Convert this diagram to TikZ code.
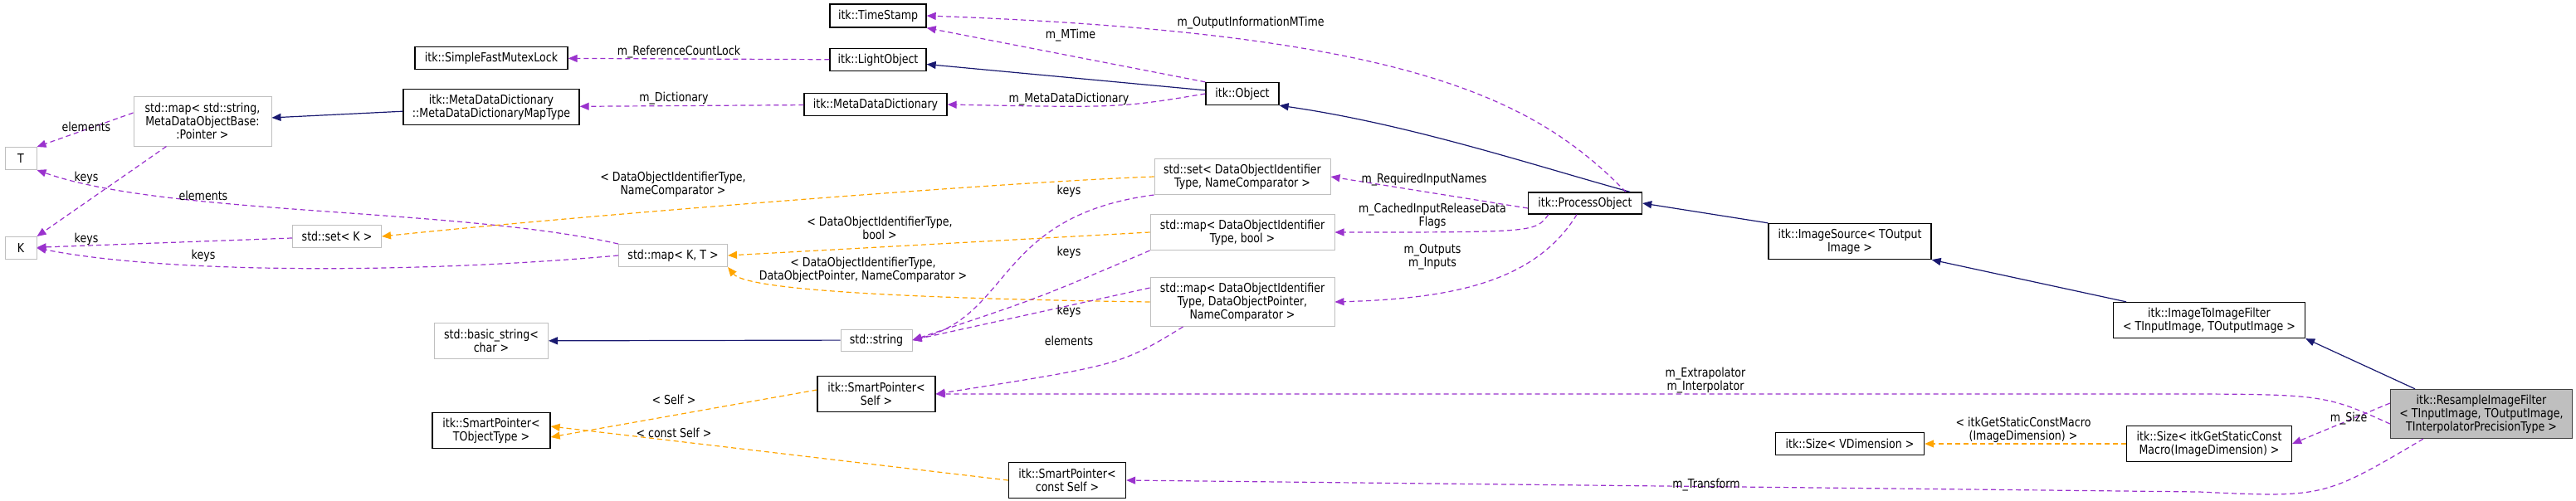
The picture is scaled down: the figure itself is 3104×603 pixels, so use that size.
\documentclass[tikz,border=0pt]{standalone}
\usepackage{fontspec}
\setmainfont{DejaVu Sans}[FakeStretch=0.84]
\usetikzlibrary{arrows.meta}
\definecolor{inh}{HTML}{191970}
\definecolor{use}{HTML}{9A32CD}
\definecolor{tpl}{HTML}{FFA500}
\definecolor{gb}{HTML}{BFBFBF}
\begin{document}
\begin{tikzpicture}[x=1pt,y=-1pt,
  font=\fontsize{15}{16}\selectfont,
  bx/.style args={#1/#2}{draw=black,line width=1.3pt,minimum width=#1pt,minimum height=#2pt,inner sep=0pt,align=center,fill=white},
  gx/.style={draw=gb,line width=1pt},
  inherit/.style={draw=inh,line width=1.2pt,-{Triangle[length=11pt,width=9pt]}},
  uses/.style={draw=use,line width=1.2pt,dash pattern=on 6pt off 4pt,-{Triangle[length=11pt,width=9pt]}},
  templ/.style={draw=tpl,line width=1.2pt,dash pattern=on 6pt off 4pt,-{Triangle[length=11pt,width=9pt]}},
  lbl/.style={align=center,inner sep=1pt}]
\useasboundingbox (0,0) rectangle (3104,603);
% nodes
\node[bx=116/28] (ts) at (1058,19) {itk::TimeStamp};
\node[bx=116/27] (lo) at (1058,72) {itk::LightObject};
\node[bx=184/27] (sfm) at (592,70) {itk::SimpleFastMutexLock};
\node[bx=172/27] (mdd) at (1055,126) {itk::MetaDataDictionary};
\node[bx=212/43] (mdt) at (592,129) {itk::MetaDataDictionary\\::MetaDataDictionaryMapType};
\node[bx=166/60,gx] (mstr) at (244,146) {std::map< std::string,\\MetaDataObjectBase:\\:Pointer >};
\node[bx=38/27,gx] (T) at (25,191) {T};
\node[bx=38/27,gx] (K) at (25,299) {K};
\node[bx=107/27,gx] (setk) at (406,285) {std::set< K >};
\node[bx=131/27,gx] (mkt) at (811,308) {std::map< K, T >};
\node[bx=137/43,gx] (bstr) at (592,411) {std::basic\_string<\\char >};
\node[bx=142/43] (spt) at (592,519) {itk::SmartPointer<\\TObjectType >};
\node[bx=88/27] (obj) at (1497,113) {itk::Object};
\node[bx=137/26] (po) at (1910,245) {itk::ProcessObject};
\node[bx=212/43,gx] (setd) at (1497,213) {std::set< DataObjectIdentifier\\Type, NameComparator >};
\node[bx=222/43,gx] (mapb) at (1497,280) {std::map< DataObjectIdentifier\\Type, bool >};
\node[bx=222/59,gx] (mapd) at (1497,364) {std::map< DataObjectIdentifier\\Type, DataObjectPointer,\\NameComparator >};
\node[bx=86/26,gx] (str) at (1056,410) {std::string};
\node[bx=142/43] (sps) at (1056,475) {itk::SmartPointer<\\Self >};
\node[bx=141/43] (spc) at (1286,579) {itk::SmartPointer<\\const Self >};
\node[bx=196/43] (isrc) at (2229,291) {itk::ImageSource< TOutput\\Image >};
\node[bx=231/43] (itif) at (2662,386) {itk::ImageToImageFilter\\< TInputImage, TOutputImage >};
\node[bx=219/59,fill=gb,draw=black!75] (rif) at (2990,499) {itk::ResampleImageFilter\\< TInputImage, TOutputImage,\\TInterpolatorPrecisionType >};
\node[bx=179/27] (szv) at (2229,535) {itk::Size< VDimension >};
\node[bx=199/43] (szi) at (2662,535) {itk::Size< itkGetStaticConst\\Macro(ImageDimension) >};
% edges
\draw[inherit] ([xshift=-15pt]po.north east) .. controls (1850,200) and (1700,150) .. (obj.south east);
\draw[inherit] (obj) -- (lo);
\draw[uses] (obj.north west) -- (ts.south east);
\draw[uses] ([xshift=-20pt]po.north east) .. controls (1850,120) and (1700,40) .. (ts.east);
\draw[uses] (lo) -- (sfm);
\draw[uses] (obj.west) .. controls (1350,130) .. (mdd.east);
\draw[uses] (mdd) -- (mdt);
\draw[inherit] (mdt) -- (mstr);
\draw[uses] ([yshift=10pt]mstr.west) -- (T.north east);
\draw[uses] ([xshift=40pt]mstr.south west) -- (K.north east);
\draw[uses] (mkt.north west) .. controls (550,250) and (200,260) .. (T.south east);
\draw[uses] (setk) -- (K);
\draw[uses] (mkt.west) .. controls (500,330) and (200,330) .. (K.east);
\draw[templ] (setd.west) .. controls (1200,220) and (700,260) .. (setk.east);
\draw[templ] (mapb.west) -- (mkt.east);
\draw[templ] (mapd.west) .. controls (1100,360) and (900,350) .. (mkt.south east);
\draw[uses] (setd.south west) .. controls (1200,260) and (1220,380) .. (str.east);
\draw[uses] (mapb.south west) .. controls (1250,360) .. (str.east);
\draw[uses] ([yshift=17pt]mapd.west) -- (str.east);
\draw[uses] ([xshift=40pt]mapd.south west) .. controls (1350,440) .. (sps.east);
\draw[inherit] (str) -- (bstr);
\draw[uses] ([yshift=-6pt]po.west) -- (setd.east);
\draw[uses] ([xshift=25pt]po.south west) .. controls (1850,280) .. (mapb.east);
\draw[uses] ([xshift=-10pt]po.south) .. controls (1850,340) and (1750,360) .. (mapd.east);
\draw[inherit] (isrc.north west) -- (po.east);
\draw[inherit] ([xshift=-100pt]itif.north) -- (isrc.south east);
\draw[inherit] ([xshift=-80pt]rif.north) -- (itif.south east);
\coordinate (ex) at (2600,475);
\coordinate (tr) at (2650,593);
\draw[uses] ([yshift=-12pt]rif.west) .. controls (2800,475) .. (ex) -- (sps.east);
\draw[uses] ([yshift=13pt]rif.west) -- (szi.east);
\draw[templ] (szi) -- (szv);
\draw[uses] ([xshift=40pt]rif.south west) .. controls (2800,600) .. (tr) -- (spc.east);
\draw[templ] ([yshift=5pt]sps.west) -- ([yshift=-8pt]spt.east);
\draw[templ] (spc.west) -- ([yshift=5pt]spt.east);
% labels
\node[lbl] (l1) at (1290,43) {m\_MTime};
\node[lbl] (l2) at (1507,28) {m\_OutputInformationMTime};
\node[lbl] (l3) at (818,63) {m\_ReferenceCountLock};
\node[lbl] (l4) at (1288,120) {m\_MetaDataDictionary};
\node[lbl] (l5) at (812,119) {m\_Dictionary};
\node[lbl] (l6) at (104,153) {elements};
\node[lbl] (l7) at (104,214) {keys};
\node[lbl] (l8) at (245,236) {elements};
\node[lbl] (l9) at (104,288) {keys};
\node[lbl] (l10) at (245,308) {keys};
\node[lbl] (l11) at (811,222) {< DataObjectIdentifierType,\\NameComparator >};
\node[lbl] (l12) at (1060,275) {< DataObjectIdentifierType,\\bool >};
\node[lbl] (l13) at (1040,325) {< DataObjectIdentifierType,\\DataObjectPointer, NameComparator >};
\node[lbl] (l14) at (1288,230) {keys};
\node[lbl] (l15) at (1288,304) {keys};
\node[lbl] (l16) at (1288,375) {keys};
\node[lbl] (l17) at (1288,411) {elements};
\node[lbl] (l18) at (1716,217) {m\_RequiredInputNames};
\node[lbl] (l19) at (1726,260) {m\_CachedInputReleaseData\\Flags};
\node[lbl] (l20) at (1726,310) {m\_Outputs\\m\_Inputs};
\node[lbl] (l21) at (2055,459) {m\_Extrapolator\\m\_Interpolator};
\node[lbl] (l22) at (2830,505) {m\_Size};
\node[lbl] (l23) at (2438,518) {< itkGetStaticConstMacro\\(ImageDimension) >};
\node[lbl] (l24) at (2056,585) {m\_Transform};
\node[lbl] (l25) at (812,482) {< Self >};
\node[lbl] (l26) at (812,522) {< const Self >};
\end{tikzpicture}
\end{document}
